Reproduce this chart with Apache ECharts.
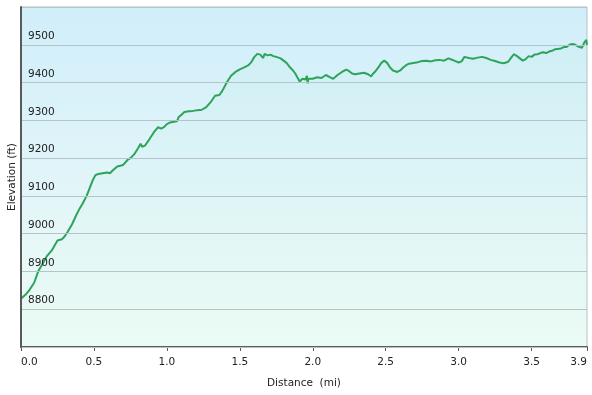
<!DOCTYPE html>
<html>
<head>
<meta charset="utf-8">
<script src="https://cdn.jsdelivr.net/npm/echarts@6/dist/echarts.min.js"></script>
<style>
html,body{margin:0;padding:0;background:#fff;}
#chart{width:592px;height:395px;}
</style>
</head>
<body>
<div id="chart"></div>
<script>
const distance = [0.00,0.03,0.06,0.09,0.12,0.15,0.18,0.21,0.24,0.25,0.26,0.28,0.30,0.32,0.35,0.38,0.40,0.42,0.45,0.47,0.49,0.51,0.53,0.56,0.59,0.60,0.61,0.63,0.66,0.68,0.70,0.73,0.75,0.78,0.80,0.81,0.82,0.83,0.85,0.88,0.91,0.94,0.96,0.98,1.00,1.02,1.05,1.07,1.08,1.10,1.12,1.15,1.18,1.21,1.24,1.27,1.30,1.33,1.36,1.38,1.41,1.44,1.47,1.50,1.53,1.56,1.58,1.60,1.62,1.64,1.65,1.66,1.67,1.69,1.71,1.73,1.75,1.78,1.80,1.82,1.84,1.86,1.88,1.90,1.91,1.92,1.93,1.95,1.96,1.965,1.97,2.00,2.03,2.06,2.09,2.10,2.12,2.14,2.17,2.20,2.23,2.25,2.27,2.29,2.32,2.35,2.38,2.40,2.41,2.43,2.45,2.47,2.49,2.51,2.53,2.55,2.58,2.60,2.62,2.64,2.66,2.69,2.72,2.75,2.78,2.81,2.84,2.87,2.90,2.93,2.95,2.97,3.00,3.02,3.04,3.07,3.10,3.13,3.16,3.19,3.22,3.25,3.28,3.31,3.34,3.36,3.38,3.40,3.42,3.44,3.46,3.48,3.50,3.52,3.54,3.56,3.58,3.60,3.62,3.64,3.66,3.68,3.70,3.72,3.74,3.76,3.78,3.80,3.82,3.83,3.845,3.86,3.875,3.88];
const elevation = [8828,8838,8852,8870,8902,8922,8942,8955,8975,8982,8977,8985,8993,9005,9025,9050,9065,9078,9100,9120,9140,9155,9158,9160,9162,9165,9160,9168,9178,9180,9182,9195,9200,9212,9225,9228,9238,9230,9233,9250,9268,9282,9278,9282,9290,9294,9296,9298,9308,9315,9322,9324,9325,9327,9328,9335,9348,9365,9367,9378,9400,9418,9428,9435,9440,9446,9455,9468,9476,9474,9478,9465,9476,9472,9474,9470,9468,9464,9458,9452,9442,9434,9424,9410,9403,9398,9410,9408,9418,9398,9410,9410,9414,9412,9420,9416,9414,9410,9420,9428,9434,9430,9424,9422,9424,9426,9422,9416,9422,9430,9440,9452,9458,9452,9440,9432,9428,9432,9440,9446,9450,9452,9454,9457,9458,9456,9459,9460,9458,9464,9461,9458,9453,9456,9468,9465,9463,9466,9468,9465,9460,9457,9453,9451,9455,9466,9475,9470,9464,9458,9462,9470,9468,9474,9475,9478,9480,9478,9482,9484,9488,9489,9490,9494,9494,9500,9502,9500,9495,9490,9492,9505,9513,9500];
const yMin = 8700, yMax = 9600, yStep = 100;
const xMin = 0, xMax = 3.88, xStep = 0.5;

const chart = echarts.init(document.getElementById('chart'), null, {renderer:'canvas'});
const font = 'DejaVu Sans, Verdana, sans-serif';
chart.setOption({
  animation: false,
  backgroundColor: '#ffffff',
  grid: {
    left: 21, right: 5, top: 7, bottom: 48,
    containLabel: false,
    outerBoundsMode: 'none',
    show: true,
    borderColor: '#b4c2c8',
    borderWidth: 1,
    backgroundColor: {
      type: 'linear', x: 0, y: 0, x2: 0, y2: 1,
      colorStops: [
        {offset: 0, color: '#d0eefa'},
        {offset: 0.5, color: '#e1f5f9'},
        {offset: 1, color: '#eefcf6'}
      ]
    }
  },
  xAxis: {
    type: 'value',
    min: xMin, max: xMax, interval: xStep,
    name: 'Distance  (mi)',
    nameLocation: 'middle',
    nameGap: 31,
    nameMoveOverlap: false,
    nameTextStyle: {fontFamily: font, fontSize: 10.5, color: '#222'},
    axisLine: {show: true, lineStyle: {color: '#5a5a5a', width: 2}},
    axisTick: {show: true, length: 4, lineStyle: {color: '#5a5a5a', width: 1}},
    splitLine: {show: false},
    axisLabel: {
      fontFamily: font, fontSize: 10.5, color: '#222', margin: 10,
      alignMinLabel: 'left', alignMaxLabel: 'right',
      formatter: v => v.toFixed(1)
    }
  },
  yAxis: {
    type: 'value',
    min: yMin, max: yMax, interval: yStep,
    name: 'Elevation (ft)',
    nameLocation: 'middle',
    nameGap: 3,
    nameMoveOverlap: false,
    nameTextStyle: {fontFamily: font, fontSize: 10.5, color: '#222'},
    axisLine: {show: true, lineStyle: {color: '#5a5a5a', width: 2}},
    axisTick: {show: false},
    splitLine: {show: true, lineStyle: {color: '#b4c4c8', width: 1}},
    axisLabel: {
      inside: true, margin: 7,
      showMinLabel: false, showMaxLabel: false,
      fontFamily: font, fontSize: 10.5, color: '#222',
      verticalAlign: 'bottom', padding: [0, 0, 3, 0],
      formatter: v => String(v)
    },
    z: 3
  },
  series: [{
    type: 'line',
    data: distance.map((d, i) => [d, elevation[i]]),
    showSymbol: false,
    smooth: false,
    lineStyle: {color: '#2ea35a', width: 2},
    areaStyle: {
      origin: 'start',
      color: {
        type: 'linear', x: 0, y: 0, x2: 0, y2: 1,
        colorStops: [
          {offset: 0, color: 'rgba(120,225,170,0.07)'},
          {offset: 1, color: 'rgba(120,225,170,0.03)'}
        ]
      }
    },
    z: 2
  }]
});
</script>
</body>
</html>
